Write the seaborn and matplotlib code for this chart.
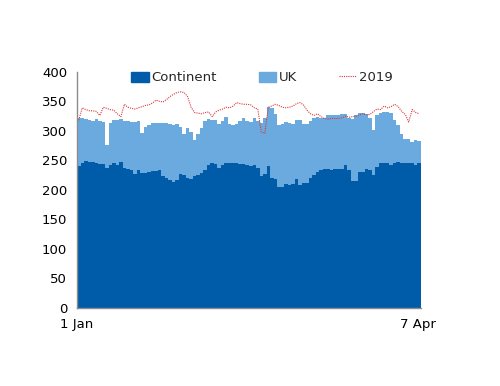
import pandas as pd
import seaborn as sns
import matplotlib.pyplot as plt
from matplotlib.patches import Patch
from matplotlib.lines import Line2D

# daily values, 1 Jan - 7 Apr
continent = [241, 245, 249, 248, 247, 245, 244, 244, 237, 243,
             246, 243, 248, 237, 235, 233, 227, 233, 229, 229,
             230, 232, 232, 233, 223, 220, 217, 213, 217, 227,
             225, 220, 218, 223, 225, 229, 234, 242, 246, 244,
             237, 242, 245, 246, 245, 245, 244, 244, 242, 240,
             242, 237, 224, 227, 240, 220, 218, 205, 205, 210,
             209, 210, 218, 209, 211, 212, 220, 226, 231, 233,
             235, 236, 233, 235, 235, 236, 242, 234, 215, 215,
             231, 231, 236, 234, 225, 238, 245, 245, 245, 242,
             245, 247, 246, 246, 245, 245, 243, 246]
# continent + UK (top of stack)
total = [322, 321, 320, 318, 316, 320, 316, 315, 276, 314,
         318, 318, 320, 316, 316, 315, 315, 316, 296, 307,
         310, 313, 313, 313, 314, 314, 312, 310, 311, 307,
         295, 304, 298, 284, 295, 304, 316, 320, 318, 318,
         312, 316, 324, 311, 310, 312, 316, 322, 316, 315,
         321, 316, 314, 321, 340, 338, 329, 310, 312, 315,
         314, 312, 318, 318, 311, 312, 316, 321, 324, 322,
         321, 326, 326, 326, 327, 329, 328, 322, 320, 326,
         331, 331, 329, 322, 301, 326, 331, 332, 332, 331,
         318, 310, 295, 287, 286, 281, 284, 282]
y2019 = [318, 339, 336, 334, 334, 333, 326, 340, 338, 336,
         335, 329, 324, 345, 340, 338, 337, 339, 341, 343,
         344, 347, 352, 350, 349, 353, 358, 362, 365, 366,
         365, 358, 340, 331, 330, 329, 331, 332, 324, 332,
         335, 337, 340, 339, 342, 348, 346, 345, 345, 344,
         339, 337, 298, 296, 340, 342, 345, 343, 340, 339,
         340, 342, 346, 348, 344, 335, 329, 326, 329, 324,
         321, 320, 321, 321, 321, 322, 325, 323, 324, 325,
         327, 329, 327, 328, 333, 337, 336, 342, 339, 341,
         345, 341, 333, 328, 315, 336, 331, 329]
tick_labels = ["1 Jan", "7 Apr"]

df = pd.DataFrame({"day": range(len(total)), "continent": continent,
                   "total": total, "y2019": y2019})

c_cont = "#005ba8"
c_uk = "#6aaade"
c_red = "#d8393b"

sns.set_style("white")
plt.rcParams["font.family"] = ["DejaVu Sans"]
plt.rcParams["font.size"] = 9.5

fig = plt.figure(figsize=(5, 3.86), dpi=100)
ax = fig.add_axes([0.154, 0.202, 0.688, 0.612])

# UK stacked on continent: draw total first, continent over it
sns.barplot(data=df, x="day", y="total", color=c_uk, width=1.0,
            linewidth=0, saturation=1, ax=ax)
sns.barplot(data=df, x="day", y="continent", color=c_cont, width=1.0,
            linewidth=0, saturation=1, ax=ax)
sns.lineplot(data=df, x="day", y="y2019", color=c_red, linewidth=0.8,
             linestyle=(0, (1, 1)), ax=ax)

ax.set_xlim(-0.5, 97.5)
ax.set_ylim(0, 400)
ax.set_yticks(range(0, 401, 50))
ax.set_xticks([-0.5, 96.6])
ax.set_xticklabels(tick_labels)
ax.set_xlabel("")
ax.set_ylabel("")

for s in ["top", "right"]:
    ax.spines[s].set_visible(False)
for s in ["left", "bottom"]:
    ax.spines[s].set_color("#8c8c8c")
    ax.spines[s].set_linewidth(1.0)
ax.tick_params(axis="both", direction="out", length=4, width=1,
               color="#8c8c8c", labelcolor="black", pad=3)

handles = [Patch(facecolor=c_cont, edgecolor=c_cont),
           Patch(facecolor=c_uk, edgecolor=c_uk),
           Line2D([0], [0], color=c_red, linewidth=0.8, linestyle=(0, (1, 1)))]
ax.legend(handles, ["Continent", "UK", "2019"], ncol=3, frameon=False,
          loc="center", bbox_to_anchor=(0.538, 0.975), handlelength=1.3,
          handleheight=0.8, handletextpad=0.2, columnspacing=3.2,
          borderaxespad=0)

fig.savefig("out.png", dpi=100)
